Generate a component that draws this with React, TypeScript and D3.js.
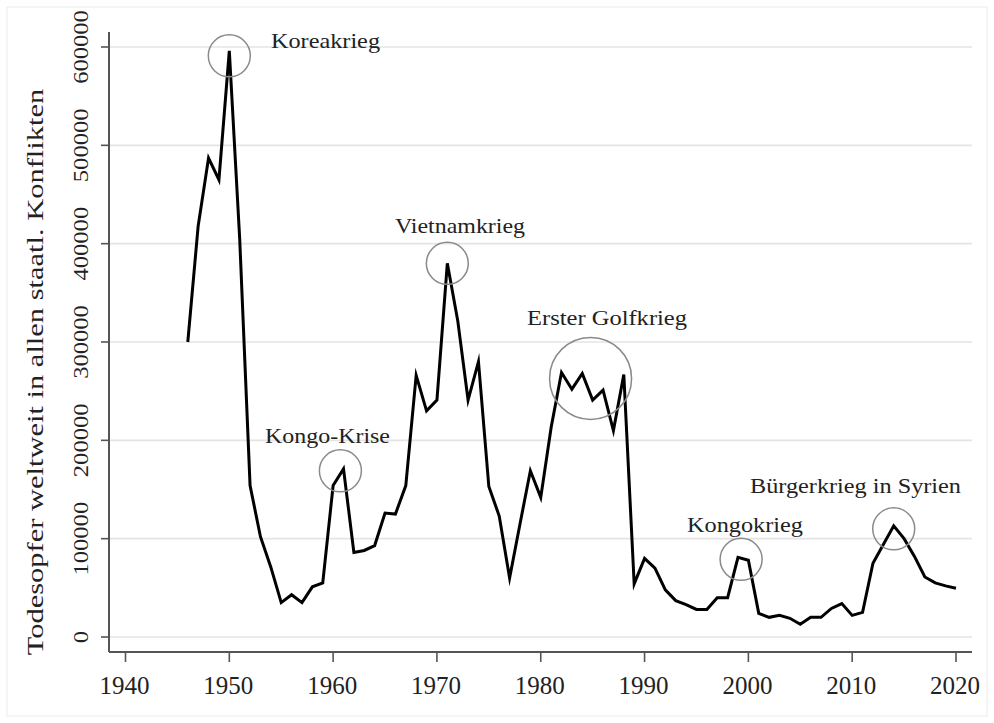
import { useEffect, useRef } from "react"
import * as d3 from "d3"

// years 1946-2020
const years: number[] = d3.range(1946, 2021)

// Todesopfer weltweit in allen staatl. Konflikten
const deaths: number[] = [
  300000, 418000, 487000, 465000, 596000, 405000, 154000, 102000, 71000, 35000, // 1946-1955
  43000, 35000, 51000, 55000, 154000, 171000, 86000, 88000, 93000, 126000, // 1956-1965
  125000, 154000, 266000, 230000, 241000, 380000, 322000, 241000, 280000, 153000, // 1966-1975
  123000, 60000, 115000, 169000, 142000, 213000, 269000, 252000, 268000, 241000, // 1976-1985
  251000, 210000, 267000, 54000, 80000, 70000, 48000, 37000, 33000, 28000, // 1986-1995
  28000, 40000, 40000, 81000, 78000, 24000, 20000, 22000, 19000, 13000, // 1996-2005
  20000, 20000, 29000, 34000, 22000, 25000, 75000, 94000, 113000, 100000, // 2006-2015
  82000, 61000, 55000, 52000, 49500, // 2016-2020
]

const xTicks: number[] = [1940, 1950, 1960, 1970, 1980, 1990, 2000, 2010, 2020]
const yTicks: number[] = [0, 100000, 200000, 300000, 400000, 500000, 600000]

// annotated conflicts: circle centre in data units
const conflictLabels: string[] = ["Koreakrieg", "Kongo-Krise", "Vietnamkrieg", "Erster Golfkrieg", "Kongokrieg", "Bürgerkrieg in Syrien"]
const conflictYears: number[] = [1950, 1960.7, 1971, 1984.8, 1999.3, 2014]
const conflictValues: number[] = [591000, 169000, 380000, 263000, 79000, 110000]

export default function App() {
  const svgRef = useRef<SVGSVGElement>(null)

  useEffect(() => {
    if (!svgRef.current) return
    const svg = d3.select(svgRef.current)
    svg.selectAll("*").remove()

    const width = 994
    const height = 723
    const font = "'Liberation Serif', 'DejaVu Serif', serif"
    const axisColor = "#555"

    const x = d3.scaleLinear().domain([1940, 2020]).range([125.5, 956])
    const y = d3.scaleLinear().domain([0, 600000]).range([637, 47])

    const plotLeft = 109
    const plotRight = 972
    const axisBottom = 652
    const axisTop = 32

    svg.append("rect").attr("width", width).attr("height", height).attr("fill", "#fff")

    // faint outer frame
    svg.append("rect")
      .attr("x", 7).attr("y", 7)
      .attr("width", width - 14).attr("height", height - 14)
      .attr("fill", "none")
      .attr("stroke", "#ececec")
      .attr("stroke-width", 1)

    // gridlines
    svg.append("g")
      .selectAll("line")
      .data(yTicks)
      .enter()
      .append("line")
      .attr("x1", plotLeft)
      .attr("x2", plotRight)
      .attr("y1", (d: number) => y(d))
      .attr("y2", (d: number) => y(d))
      .attr("stroke", "#e4e4e4")
      .attr("stroke-width", 1.6)

    // axes lines
    svg.append("line")
      .attr("x1", plotLeft).attr("x2", plotLeft)
      .attr("y1", axisTop).attr("y2", axisBottom)
      .attr("stroke", axisColor).attr("stroke-width", 2)
    svg.append("line")
      .attr("x1", plotLeft).attr("x2", plotRight)
      .attr("y1", axisBottom).attr("y2", axisBottom)
      .attr("stroke", axisColor).attr("stroke-width", 2)

    // y ticks + labels (rotated, stretched along reading direction)
    const yt = svg.append("g")
    yt.selectAll("line")
      .data(yTicks)
      .enter()
      .append("line")
      .attr("x1", plotLeft - 8)
      .attr("x2", plotLeft)
      .attr("y1", (d: number) => y(d))
      .attr("y2", (d: number) => y(d))
      .attr("stroke", axisColor)
      .attr("stroke-width", 1.6)
    yt.selectAll("text")
      .data(yTicks)
      .enter()
      .append("text")
      .attr("transform", (d: number) => `translate(88,${y(d)}) rotate(-90) scale(1.2,1)`)
      .attr("text-anchor", "middle")
      .attr("font-family", font)
      .attr("font-size", 20.5)
      .attr("fill", "#222")
      .text((d: number) => `${d}`)

    // x ticks + labels
    const xt = svg.append("g")
    xt.selectAll("line")
      .data(xTicks)
      .enter()
      .append("line")
      .attr("x1", (d: number) => x(d))
      .attr("x2", (d: number) => x(d))
      .attr("y1", axisBottom)
      .attr("y2", axisBottom + 10)
      .attr("stroke", axisColor)
      .attr("stroke-width", 1.6)
    xt.selectAll("text")
      .data(xTicks)
      .enter()
      .append("text")
      .attr("x", (d: number) => x(d) - 1)
      .attr("y", 694)
      .attr("text-anchor", "middle")
      .attr("font-family", font)
      .attr("font-size", 25)
      .attr("fill", "#222")
      .text((d: number) => `${d}`)

    // y axis title
    svg.append("text")
      .attr("transform", "translate(43,372) rotate(-90) scale(1.27,1)")
      .attr("text-anchor", "middle")
      .attr("font-family", font)
      .attr("font-size", 24)
      .attr("fill", "#222")
      .text("Todesopfer weltweit in allen staatl. Konflikten")

    // series line
    const line = d3.line<number>()
      .x((_: number, i: number) => x(years[i]))
      .y((d: number) => y(d))

    svg.append("path")
      .datum(deaths)
      .attr("d", line)
      .attr("fill", "none")
      .attr("stroke", "#000")
      .attr("stroke-width", 3)
      .attr("stroke-linejoin", "miter")
      .attr("stroke-miterlimit", 6)

    // annotation circles and labels
    const labelPos = [
      { x: 271, y: 48, len: 109 },
      { x: 265, y: 443, len: 125 },
      { x: 395, y: 233, len: 130 },
      { x: 527, y: 325, len: 160 },
      { x: 687, y: 532, len: 116 },
      { x: 750, y: 493, len: 211 },
    ]
    const radius = [21, 21, 21, 41, 21, 21]

    const ann = svg.append("g")
    ann.selectAll("circle")
      .data(conflictLabels)
      .enter()
      .append("circle")
      .attr("cx", (_: string, i: number) => x(conflictYears[i]))
      .attr("cy", (_: string, i: number) => y(conflictValues[i]))
      .attr("r", (_: string, i: number) => radius[i])
      .attr("fill", "none")
      .attr("stroke", "#8a8a8a")
      .attr("stroke-width", 1.5)

    ann.selectAll("text")
      .data(conflictLabels)
      .enter()
      .append("text")
      .attr("x", (_: string, i: number) => labelPos[i].x)
      .attr("y", (_: string, i: number) => labelPos[i].y)
      .attr("textLength", (_: string, i: number) => labelPos[i].len)
      .attr("lengthAdjust", "spacingAndGlyphs")
      .attr("font-family", font)
      .attr("font-size", 21.5)
      .attr("fill", "#222")
      .text((d: string) => d)
  }, [])

  return (
    <svg
      ref={svgRef}
      width={994}
      height={723}
      style={{ position: "absolute", left: 0, top: 0, display: "block" }}
    />
  )
}
